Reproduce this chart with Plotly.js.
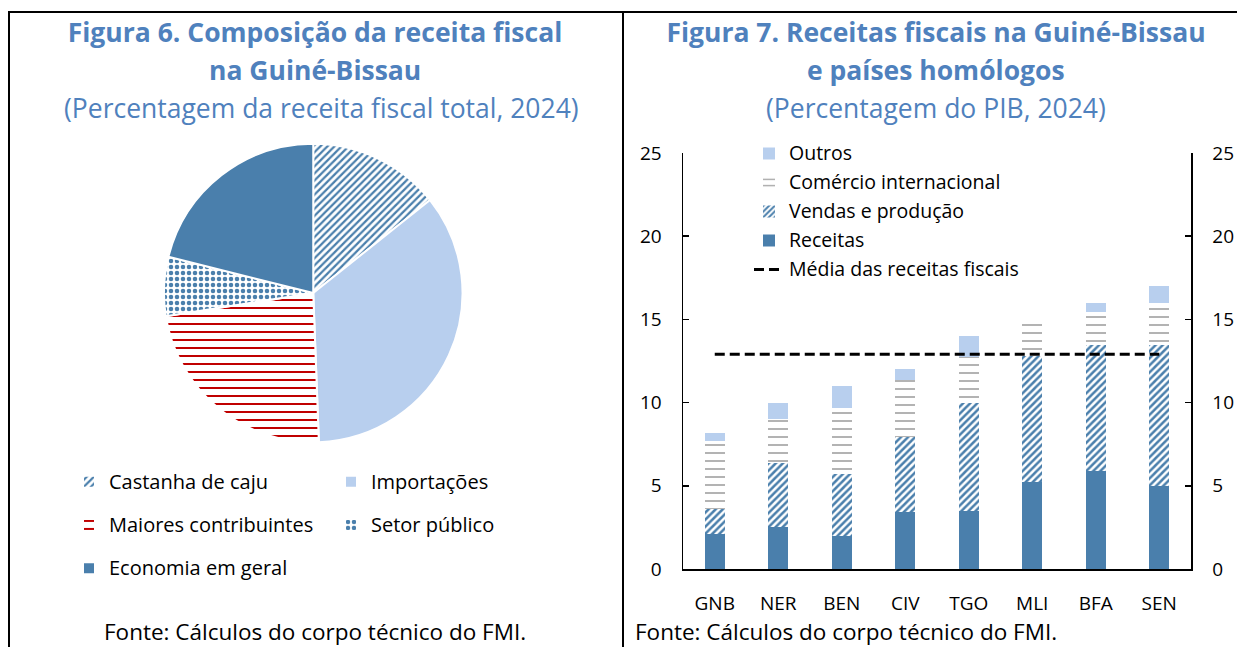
<!DOCTYPE html>
<html><head><meta charset="utf-8">
<script src="https://cdn.plot.ly/plotly-3.0.1.min.js"></script>
<style>
body{margin:0;background:#fff;width:1237px;height:647px;overflow:hidden;position:relative;font-family:'Open Sans',sans-serif}
#pie{position:absolute;left:0;top:0;width:623px;height:647px}
#bar{position:absolute;left:623px;top:0;width:614px;height:647px}
.ln{position:absolute;background:#000}
</style></head><body>
<div id="pie"></div><div id="bar"></div>
<div class="ln" style="left:8px;top:11px;width:1229px;height:2px"></div>
<div class="ln" style="left:8px;top:11px;width:2px;height:636px"></div>
<div class="ln" style="left:622px;top:11px;width:2px;height:636px"></div>
<script>
// ---- Figure 6 data ----
const pieLabels = ['Castanha de caju', 'Importações', 'Maiores contribuintes', 'Setor público', 'Economia em geral'];
const pieValues = [14.3, 35.1, 23.1, 6.4, 21.1];

// ---- Figure 7 data ----
const countries = ['GNB', 'NER', 'BEN', 'CIV', 'TGO', 'MLI', 'BFA', 'SEN'];
const receitas  = [2.1, 2.5, 2.0, 3.4, 3.5, 5.2, 5.9, 5.0];
const vendas    = [1.5, 3.85, 3.7, 4.55, 6.5, 7.6, 7.55, 8.45];
const comercio  = [4.1, 2.65, 4.0, 3.4, 2.75, 2.0, 2.0, 2.55];
const outros    = [0.5, 1.0, 1.3, 0.65, 1.25, 0.0, 0.55, 1.0];
const mediaValue = 12.9;
const yTicks = [0, 5, 10, 15, 20, 25];

const FONT = "'Open Sans', sans-serif";
const BLUE = '#4a7fac';
const LIGHT = '#b8cfee';
const TITLE = '#4f81bd';
const cfg = {staticPlot: true, displayModeBar: false};

function lg(t, size, shift) {
  return '<span style="font-size:' + size + 'px;baseline-shift:' + shift + 'px">' + t + '</span>';
}

// ---------- PIE ----------
const pieTrace = {
  type: 'pie',
  labels: pieLabels.map(l => lg(l, 20, 5)),
  values: pieValues,
  sort: false,
  direction: 'clockwise',
  rotation: 0,
  textinfo: 'none',
  hoverinfo: 'none',
  domain: {x: [0.2632, 0.7424], y: [0.3138, 0.7805]},
  marker: {
    colors: ['#ffffff', LIGHT, '#ffffff', '#ffffff', BLUE],
    line: {color: '#ffffff', width: 2},
    pattern: {
      shape: ['/', '', '-', '.', ''],
      fgcolor: [BLUE, LIGHT, '#c00000', BLUE, BLUE],
      bgcolor: ['#ffffff', LIGHT, '#ffffff', '#ffffff', BLUE],
      size: [5, 8, 8, 6, 8],
      solidity: [0.45, 0.3, 0.25, 0.45, 0.3]
    }
  }
};
const pieLayout = {
  width: 623, height: 647,
  margin: {l: 0, r: 0, t: 0, b: 0},
  paper_bgcolor: '#fff',
  font: {family: FONT, color: '#000'},
  title: {text: 'Figura 6. Composição da receita fiscal', x: 315/623, xref: 'container', xanchor: 'center',
          y: 1 - 33/647, yref: 'container', yanchor: 'middle', font: {size: 26.5, color: TITLE, weight: 700}},
  annotations: [
    {text: 'na Guiné-Bissau', xref: 'paper', yref: 'paper', x: 315/623, y: 1 - 70/647, xanchor: 'center', yanchor: 'middle',
     showarrow: false, font: {size: 26.5, color: TITLE, weight: 700}},
    {text: '(Percentagem da receita fiscal total, 2024)', xref: 'paper', yref: 'paper', x: 321/623, y: 1 - 108/647,
     xanchor: 'center', yanchor: 'middle', showarrow: false, font: {size: 26.5, color: TITLE}},
    {text: 'Fonte: Cálculos do corpo técnico do FMI.', xref: 'paper', yref: 'paper', x: 102/623, y: 1 - 631/647,
     xanchor: 'left', yanchor: 'middle', showarrow: false, font: {size: 22.5, color: '#000'}}
  ],
  showlegend: true,
  legend: {
    orientation: 'h', x: 69/623, xanchor: 'left', y: 1 - 455/647, yanchor: 'top',
    entrywidth: 217, entrywidthmode: 'pixels', traceorder: 'normal',
    font: {size: 31, family: FONT, color: '#000'}, bgcolor: 'rgba(0,0,0,0)', borderwidth: 0
  }
};
Plotly.newPlot('pie', [pieTrace], pieLayout, cfg);

// ---------- BARS ----------
const barCommon = {type: 'bar', x: countries, hoverinfo: 'none', width: 0.31};
const traces = [
  Object.assign({}, barCommon, {name: lg('Receitas', 19.5, 1), y: receitas, legendrank: 4,
    marker: {color: BLUE, line: {width: 0}}}),
  Object.assign({}, barCommon, {name: lg('Vendas e produção', 19.5, 1), y: vendas, legendrank: 3,
    marker: {color: '#ffffff', line: {width: 0},
      pattern: {shape: '/', fgcolor: BLUE, bgcolor: '#ffffff', size: 5, solidity: 0.5}}}),
  Object.assign({}, barCommon, {name: lg('Comércio internacional', 19.5, 1), y: comercio, legendrank: 2,
    marker: {color: '#ffffff', line: {width: 0},
      pattern: {shape: '-', fgcolor: '#a0a0a0', bgcolor: '#ffffff', size: 8, solidity: 0.2}}}),
  Object.assign({}, barCommon, {name: lg('Outros', 19.5, 1), y: outros, legendrank: 1,
    marker: {color: LIGHT, line: {width: 0}}}),
  {type: 'scatter', mode: 'lines', name: lg('Média das receitas fiscais', 19.5, 1), x: countries,
   y: countries.map(() => mediaValue), yaxis: 'y2', legendrank: 5, hoverinfo: 'none',
   line: {color: '#000', width: 3, dash: '10px,5px'}}
];
const axisCommon = {
  range: [0, 25], tickvals: yTicks, ticks: 'inside', ticklen: 6, tickwidth: 1.5, tickcolor: '#000',
  showline: true, linecolor: '#000', linewidth: 1.5, showgrid: false, zeroline: false,
  tickfont: {size: 19, family: FONT, color: '#000'}, fixedrange: true
};
const barLayout = {
  width: 614, height: 647,
  margin: {l: 60, r: 46, t: 153, b: 78},
  paper_bgcolor: 'rgba(0,0,0,0)', plot_bgcolor: 'rgba(0,0,0,0)',
  font: {family: FONT, color: '#000'},
  barmode: 'stack',
  title: {text: 'Figura 7. Receitas fiscais na Guiné-Bissau', x: 313/614, xref: 'container', xanchor: 'center',
          y: 1 - 33/647, yref: 'container', yanchor: 'middle', font: {size: 26.5, color: TITLE, weight: 700}},
  annotations: [
    {text: 'e países homólogos', xref: 'paper', yref: 'paper', x: (313 - 60)/508, y: 1 + (153 - 70)/416,
     xanchor: 'center', yanchor: 'middle', showarrow: false, font: {size: 26.5, color: TITLE, weight: 700}},
    {text: '(Percentagem do PIB, 2024)', xref: 'paper', yref: 'paper', x: (313 - 60)/508, y: 1 + (153 - 108)/416,
     xanchor: 'center', yanchor: 'middle', showarrow: false, font: {size: 26.5, color: TITLE}},
    {text: 'Fonte: Cálculos do corpo técnico do FMI.', xref: 'paper', yref: 'paper', x: (10 - 60)/508, y: -(631 - 569)/416,
     xanchor: 'left', yanchor: 'middle', showarrow: false, font: {size: 22.5, color: '#000'}}
  ],
  xaxis: {type: 'category', range: [-0.5, 7.5], showline: true, linecolor: '#000', linewidth: 2,
          ticks: '', showgrid: false, zeroline: false, tickfont: {size: 19, family: FONT, color: '#000'},
          ticklabelstandoff: 16, fixedrange: true},
  yaxis: Object.assign({}, axisCommon, {side: 'left', ticklabelstandoff: 16}),
  yaxis2: Object.assign({}, axisCommon, {side: 'right', overlaying: 'y', ticklabelstandoff: 16}),
  showlegend: true,
  legend: {
    x: (166 - 40 - 60)/508, xanchor: 'left', y: 1 + (153 - 134)/416, yanchor: 'top',
    traceorder: 'normal', font: {size: 20, family: FONT, color: '#000'},
    bgcolor: 'rgba(0,0,0,0)', borderwidth: 0
  }
};
Plotly.newPlot('bar', traces, barLayout, cfg);
</script>
</body></html>
